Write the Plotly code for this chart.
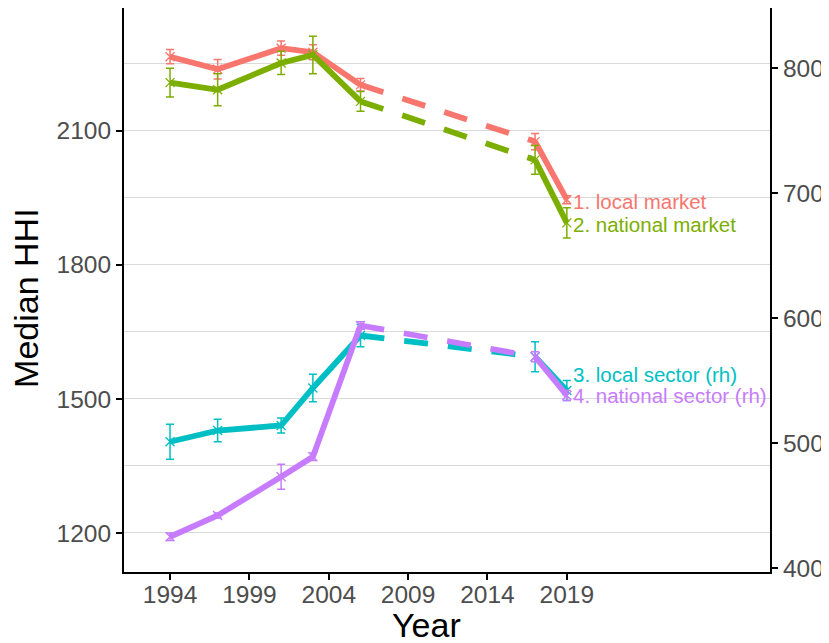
import plotly.graph_objects as go

years = [1994, 1997, 2001, 2003, 2006, 2017, 2019]

local_market = [2266, 2238, 2285, 2276, 2203, 2076, 1946]
local_market_err = [16, 22, 16, 17, 14, 18, 9]
national_market = [2208, 2192, 2252, 2270, 2166, 2035, 1894]
national_market_err = [32, 36, 26, 42, 22, 32, 34]

local_sector = [501, 510, 514, 544, 586, 569, 542]
local_sector_err = [14, 9, 6, 11, 9, 12, 8]
national_sector = [425, 442, 473, 489, 594, 569, 538]
national_sector_err = [3, 2, 10, 3, 3, 4, 4]

labels = ["1. local market", "2. national market", "3. local sector (rh)", "4. national sector (rh)"]
colors = ["#F8766D", "#7CAE00", "#00BFC4", "#C77CFF"]
label_yshift = [-2, -2, 16, 0]

series = [
    (local_market, local_market_err, "y"),
    (national_market, national_market_err, "y"),
    (local_sector, local_sector_err, "y2"),
    (national_sector, national_sector_err, "y2"),
]

x_ticks = [1994, 1999, 2004, 2009, 2014, 2019]
left_ticks = [1200, 1500, 1800, 2100]
right_ticks = [400, 500, 600, 700, 800]

FONT = "Liberation Sans, Arial"
fig = go.Figure()
LW = 5.8
for (vals, errs, ax), name, col, ys in zip(series, labels, colors, label_yshift):
    fig.add_trace(go.Scatter(x=years[:5], y=vals[:5], yaxis=ax, mode="lines",
                             line=dict(color=col, width=LW), showlegend=False, hoverinfo="skip"))
    fig.add_trace(go.Scatter(x=years[4:6], y=vals[4:6], yaxis=ax, mode="lines",
                             line=dict(color=col, width=LW, dash="24px,20px"), showlegend=False, hoverinfo="skip"))
    fig.add_trace(go.Scatter(x=years[5:], y=vals[5:], yaxis=ax, mode="lines",
                             line=dict(color=col, width=LW), showlegend=False, hoverinfo="skip"))
    fig.add_trace(go.Scatter(x=years, y=vals, yaxis=ax, mode="markers", name=name,
                             marker=dict(symbol="x-thin", size=9, line=dict(color=col, width=1.3), color=col),
                             error_y=dict(type="data", array=errs, visible=True, color=col, thickness=1.5, width=4),
                             showlegend=False))
    fig.add_annotation(x=years[-1], y=vals[-1], yref=ax, xref="x", text=name, showarrow=False,
                       xanchor="left", yanchor="middle", xshift=4, yshift=ys,
                       font=dict(family=FONT, size=20.5, color=col))

fig.add_annotation(xref="paper", yref="paper", x=0.4675, y=-0.094, text="Year", showarrow=False,
                   xanchor="center", yanchor="middle",
                   font=dict(family=FONT, size=34, color="black"))
fig.add_annotation(xref="paper", yref="paper", x=-0.1517, y=0.486, text="Median HHI", showarrow=False,
                   textangle=-90, xanchor="center", yanchor="middle",
                   font=dict(family=FONT, size=34, color="black"))

tickfont = dict(family=FONT, size=24.5, color="#4D4D4D")
fig.update_layout(
    width=821, height=635,
    margin=dict(l=116, r=59, t=0, b=71),
    plot_bgcolor="white", paper_bgcolor="white",
    xaxis=dict(range=[1991.1, 2031.8], tickvals=x_ticks, ticktext=[str(v) for v in x_ticks],
               showgrid=False, zeroline=False, showline=True, linecolor="black", linewidth=2,
               ticks="outside", ticklen=6, tickwidth=1.5, tickcolor="black", tickfont=tickfont,
               ticklabelstandoff=-6),
    yaxis=dict(range=[1112.7, 2375], tickvals=left_ticks, showgrid=True, gridcolor="#D9D9D9", gridwidth=1.2,
               minor=dict(tick0=1200, dtick=150, showgrid=True, gridcolor="#D9D9D9", gridwidth=1.2, ticks=""),
               zeroline=False, showline=True, linecolor="black", linewidth=2,
               ticks="outside", ticklen=6, tickwidth=1.5, tickcolor="black", tickfont=tickfont),
    yaxis2=dict(range=[396.8, 848], tickvals=right_ticks, overlaying="y", side="right",
                showgrid=False, zeroline=False, showline=True, linecolor="black", linewidth=2,
                ticks="outside", ticklen=6, tickwidth=1.5, tickcolor="black", tickfont=tickfont),
)

fig.write_html("out.html")
